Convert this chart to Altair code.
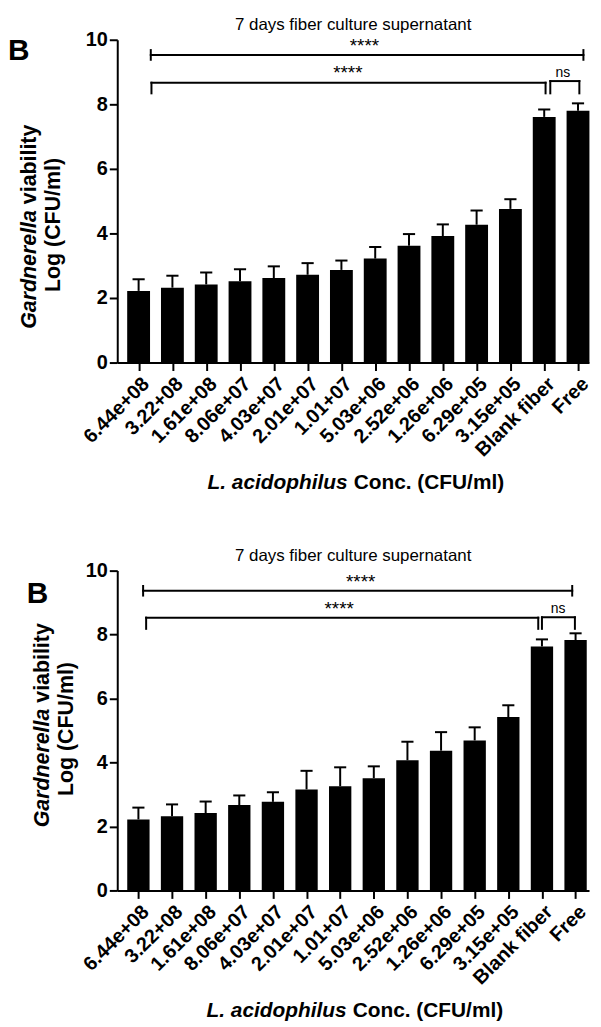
import json
import altair as alt
import pandas as pd

FONT = "Liberation Sans"

labels = ["6.44e+08", "3.22+08", "1.61e+08", "8.06e+07", "4.03e+07", "2.01e+07",
          "1.01+07", "5.03e+06", "2.52e+06", "1.26e+06", "6.29e+05", "3.15e+05",
          "Blank fiber", "Free"]

top_means = [2.22, 2.32, 2.42, 2.52, 2.62, 2.72, 2.87, 3.22, 3.62, 3.92, 4.27, 4.76, 7.61, 7.80]
top_sem = [0.36, 0.37, 0.37, 0.37, 0.36, 0.36, 0.29, 0.36, 0.36, 0.36, 0.44, 0.30, 0.23, 0.23]

bot_means = [2.22, 2.32, 2.42, 2.67, 2.77, 3.16, 3.26, 3.51, 4.07, 4.37, 4.69, 5.42, 7.63, 7.83]
bot_sem = [0.37, 0.37, 0.36, 0.30, 0.30, 0.58, 0.59, 0.37, 0.58, 0.58, 0.41, 0.37, 0.22, 0.21]

# brackets: (x_start, x_end, y_line, end_low, end_high)
top_brackets = [(0.36, 13.16, 9.53, 9.38, 9.68),
                (0.38, 12.04, 8.67, 8.34, 8.67),
                (12.18, 13.04, 8.72, 8.34, 8.72)]
bot_brackets = [(0.14, 12.90, 9.37, 9.22, 9.52),
                (0.23, 11.89, 8.53, 8.18, 8.53),
                (12.00, 12.98, 8.54, 8.18, 8.54)]

top_sig_text = ["****", "****", "ns"]
top_sig_x = [6.68, 6.19, 12.55]
top_sig_y = [9.62, 8.77, 8.86]
bot_sig_text = ["****", "****", "ns"]
bot_sig_x = [6.61, 5.97, 12.48]
bot_sig_y = [9.46, 8.62, 8.67]

title_text = "7 days fiber culture supernatant"
ylab_italic = "Gardnerella"
ylab_rest = "viability"
ylab_line2 = "Log (CFU/ml)"
xlab_italic = "L. acidophilus"
xlab_rest = "Conc. (CFU/ml)"

W = 475


def txt(text, x, y, size, weight="bold", style="normal", align="left",
        baseline="alphabetic", angle=0):
    return alt.Chart(pd.DataFrame({"t": [text]})).mark_text(
        font=FONT, fontSize=size, fontWeight=weight, fontStyle=style,
        align=align, baseline=baseline, angle=angle, color="black"
    ).encode(text="t:N", x=alt.value(x), y=alt.value(y))


def panel(means, sems, xdomain, height, half, brackets, sig_text, sig_x, sig_y, pos):
    df = pd.DataFrame({"i": list(range(14)), "mean": means, "sem": sems})
    xs = alt.Scale(domain=xdomain, nice=False, zero=False)
    ys = alt.Scale(domain=[0, 10], nice=False)
    xaxis = alt.Axis(
        values=list(range(14)),
        labelExpr=json.dumps(labels) + "[datum.value]",
        labelAngle=-45, labelAlign="right", labelBaseline="top",
        labelFont=FONT, labelFontSize=20, labelFontWeight="bold", labelColor="black",
        labelPadding=3, labelOverlap=False, labelFlush=False, labelBound=False,
        domainColor="black", domainWidth=2, tickColor="black", tickWidth=2,
        tickSize=8, grid=False, title=None,
    )
    yaxis = alt.Axis(
        values=[0, 2, 4, 6, 8, 10], format="d",
        labelFont=FONT, labelFontSize=20, labelFontWeight="bold", labelColor="black",
        labelPadding=2, domainColor="black", domainWidth=2, tickColor="black",
        tickWidth=2, tickSize=8, grid=False, title=None,
    )

    def X(f):
        return alt.X(f, scale=xs, axis=xaxis)

    def Y(f):
        return alt.Y(f, scale=ys, axis=yaxis)

    base = alt.Chart(df)
    bars = base.transform_calculate(
        x0=f"datum.i - {half}", x1=f"datum.i + {half}"
    ).mark_bar(color="black").encode(
        x=X("x0:Q"), x2="x1:Q", y=Y("mean:Q"), y2=alt.datum(0),
    )
    err = base.transform_calculate(top="datum.mean + datum.sem").mark_rule(
        color="black", strokeWidth=2
    ).encode(x=X("i:Q"), y=Y("mean:Q"), y2="top:Q")
    cap = base.transform_calculate(
        top="datum.mean + datum.sem", c0="datum.i - 0.18", c1="datum.i + 0.18"
    ).mark_rule(color="black", strokeWidth=2).encode(
        x=X("c0:Q"), x2="c1:Q", y=Y("top:Q"), y2="top:Q"
    )
    segs = []
    for (a, b, yl, lo, hi) in brackets:
        segs.append({"xa": a, "xb": b, "ya": yl, "yb": yl})
        segs.append({"xa": a, "xb": a, "ya": lo, "yb": hi})
        segs.append({"xa": b, "xb": b, "ya": lo, "yb": hi})
    br = alt.Chart(pd.DataFrame(segs)).mark_rule(
        color="black", strokeWidth=2, strokeCap="square"
    ).encode(x=X("xa:Q"), x2="xb:Q", y=Y("ya:Q"), y2="yb:Q")
    sdf = pd.DataFrame({"t": sig_text, "x": sig_x, "y": sig_y,
                        "s": [19 if t.startswith("*") else 14 for t in sig_text]})
    sig = alt.Chart(sdf).mark_text(
        font=FONT, color="black", baseline="alphabetic", align="center"
    ).encode(x=X("x:Q"), y=Y("y:Q"), text="t:N",
             size=alt.Size("s:Q", scale=None, legend=None))

    p = pos
    annots = [
        txt("B", p["bx"], p["by"], 30),
        txt(title_text, W / 2, p["ty"], 17, weight="normal", align="center"),
        txt(ylab_italic, p["l1x"], p["l1y"], 21.5, style="italic", align="right", angle=270),
        txt(ylab_rest, p["l1x"], p["l1y"] - 6, 21.5, align="left", angle=270),
        txt(ylab_line2, p["l2x"], p["l2y"], 21.5, align="center", angle=270),
        txt(xlab_italic, p["xlx"], p["xly"], 21, style="italic", align="right"),
        txt(xlab_rest, p["xlx"] + 6, p["xly"], 21, align="left"),
    ]
    return alt.layer(bars, err, cap, br, sig, *annots).properties(width=W, height=height)


top = panel(top_means, top_sem, [-0.632, 13.326], 325, 0.338, top_brackets,
            top_sig_text, top_sig_x, top_sig_y,
            {"bx": -110, "by": 20.5, "ty": -9.5, "l1x": -81.5, "l1y": 171.5,
             "l2x": -58, "l2y": 186.5, "xlx": 232, "xly": 452})
bottom = panel(bot_means, bot_sem, [-0.629, 13.40], 322, 0.332, bot_brackets,
               bot_sig_text, bot_sig_x, bot_sig_y,
               {"bx": -91, "by": 33, "ty": -10, "l1x": -68.5, "l1y": 139,
                "l2x": -45, "l2y": 159.5, "xlx": 231, "xly": 449})

chart = alt.vconcat(top, bottom, spacing=54.5).properties(
    padding={"left": 0, "top": 4.5, "right": 0, "bottom": 0}
).configure_view(stroke=None)

chart.save("out.html", embed_options={"renderer": "svg", "actions": False})
